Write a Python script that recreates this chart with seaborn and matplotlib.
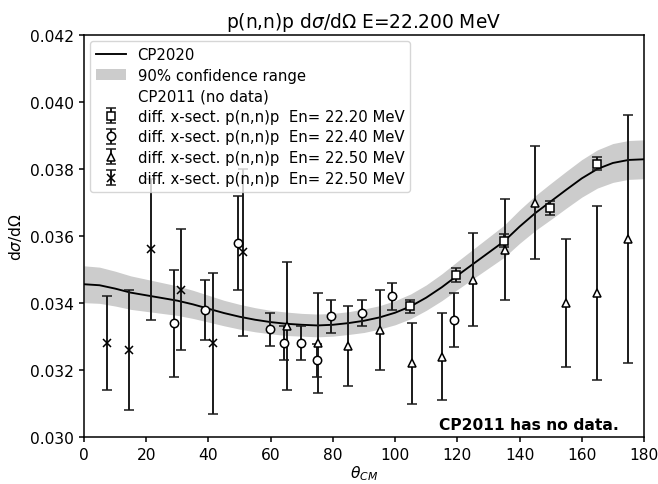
import matplotlib
matplotlib.use("Agg")
import matplotlib.pyplot as plt
import seaborn as sns
import numpy as np
import pandas as pd

# CP2020 curve and 90% confidence band
theta_curve = [0, 5, 10, 15, 20, 25, 30, 35, 40, 45, 50, 55, 60, 65, 70, 75, 80, 85, 90,
               95, 100, 105, 110, 115, 120, 125, 130, 135, 140, 145, 150, 155, 160, 165,
               170, 175, 180]
cp2020 = [0.03456, 0.03453, 0.03443, 0.03431, 0.03423, 0.03415, 0.03407, 0.03396, 0.03383,
          0.03370, 0.03359, 0.03350, 0.03343, 0.03338, 0.03335, 0.03333, 0.03335, 0.03340,
          0.03347, 0.03357, 0.03371, 0.03390, 0.03416, 0.03447, 0.03482, 0.03516, 0.03550,
          0.03584, 0.03628, 0.03668, 0.03703, 0.03738, 0.03772, 0.03800, 0.03818, 0.03827,
          0.03829]
band_half = [0.00055, 0.00054, 0.00052, 0.00050, 0.00048, 0.00046, 0.00044, 0.00042, 0.00040,
             0.00038, 0.00037, 0.00036, 0.00035, 0.00035, 0.00034, 0.00034, 0.00034, 0.00034,
             0.00035, 0.00035, 0.00036, 0.00037, 0.00038, 0.00040, 0.00042, 0.00044, 0.00046,
             0.00048, 0.00050, 0.00052, 0.00054, 0.00055, 0.00056, 0.00057, 0.00058, 0.00058,
             0.00058]

# Experimental data
sq_x = [104.8, 119.7, 135.0, 149.7, 164.8]
sq_y = [0.03390, 0.03484, 0.03586, 0.03683, 0.03816]
sq_e = [0.0002, 0.0002, 0.0002, 0.0002, 0.0002]

ci_x = [28.9, 38.8, 49.4, 59.7, 64.4, 69.6, 74.75, 79.5, 89.5, 99.1, 118.9]
ci_y = [0.03339, 0.0338, 0.0358, 0.03321, 0.0328, 0.0328, 0.03229, 0.0336, 0.0337, 0.0342, 0.0335]
ci_e = [0.0016, 0.0009, 0.0014, 0.0005, 0.0005, 0.0005, 0.0005, 0.0005, 0.0004, 0.0004, 0.0008]

tr_x = [65.2, 75.3, 85.0, 95.2, 105.3, 115.1, 125.1, 135.4, 145.0, 155.0, 165.0, 174.8]
tr_y = [0.03331, 0.0328, 0.03271, 0.0332, 0.0322, 0.0324, 0.0347, 0.03559, 0.0370, 0.0340,
        0.0343, 0.03592]
tr_e = [0.0019, 0.0015, 0.0012, 0.0012, 0.0012, 0.0013, 0.0014, 0.0015, 0.0017, 0.0019,
        0.0026, 0.0037]

cr_x = [7.5, 14.4, 21.4, 31.3, 41.4, 51.2]
cr_y = [0.0328, 0.0326, 0.0356, 0.0344, 0.0328, 0.03551]
cr_e = [0.0014, 0.0018, 0.0021, 0.0018, 0.0021, 0.0025]

labels = ["diff. x-sect. p(n,n)p  En= 22.20 MeV",
          "diff. x-sect. p(n,n)p  En= 22.40 MeV",
          "diff. x-sect. p(n,n)p  En= 22.50 MeV",
          "diff. x-sect. p(n,n)p  En= 22.50 MeV"]

fs = 11.2
lfs = 10.7
plt.rcParams.update({"font.size": fs, "axes.labelsize": fs, "xtick.labelsize": fs,
                     "ytick.labelsize": fs, "legend.fontsize": lfs,
                     "axes.linewidth": 1.1, "xtick.major.width": 1.1,
                     "ytick.major.width": 1.1, "xtick.major.size": 3.9,
                     "ytick.major.size": 3.9})

fig = plt.figure(figsize=(6.58, 4.85), dpi=100)
ax = fig.add_axes([84 / 658, 1 - 438 / 485, 560 / 658, (438 - 36) / 485])

df = pd.DataFrame({"theta": theta_curve, "cs": cp2020, "half": band_half})
sns.lineplot(data=df, x="theta", y="cs", ax=ax, color="black", lw=1.35, label="CP2020")
ax.fill_between(df["theta"], df["cs"] - df["half"], df["cs"] + df["half"],
                color="#cccccc", lw=0, zorder=1, label="90% confidence range")
ax.plot([], [], linestyle="none", label="CP2011 (no data)")

kw = dict(linestyle="none", color="#1a1a1a", mfc="white", mec="black", capsize=3.8,
          elinewidth=1.4, capthick=1.4, mew=1.1)
ax.errorbar(sq_x, sq_y, yerr=sq_e, marker="s", ms=5.5, label=labels[0], **kw)
ax.errorbar(ci_x, ci_y, yerr=ci_e, marker="o", ms=6, label=labels[1], **kw)
ax.errorbar(tr_x, tr_y, yerr=tr_e, marker="^", ms=6, label=labels[2], **kw)
ax.errorbar(cr_x, cr_y, yerr=cr_e, marker="x", ms=6, label=labels[3], **kw)

ax.set_xlim(0, 180)
ax.set_ylim(0.030, 0.042)
ax.set_xticks(np.arange(0, 181, 20))
ax.set_yticks(np.arange(0.030, 0.0421, 0.002))
ax.set_xlabel(r"$\theta_{CM}$", labelpad=1)
ax.set_ylabel(r"d$\sigma$/d$\Omega$")
ax.set_title(r"p(n,n)p d$\sigma$/d$\Omega$ E=22.200 MeV", fontsize=13.4, pad=6)
ax.text(0.955, 0.032, "CP2011 has no data.", transform=ax.transAxes, ha="right",
        va="center", fontweight="bold", fontsize=fs)
ax.legend(loc="upper left", handlelength=2.0, labelspacing=0.38, borderaxespad=0.4)

fig.savefig("out.png", dpi=100)
